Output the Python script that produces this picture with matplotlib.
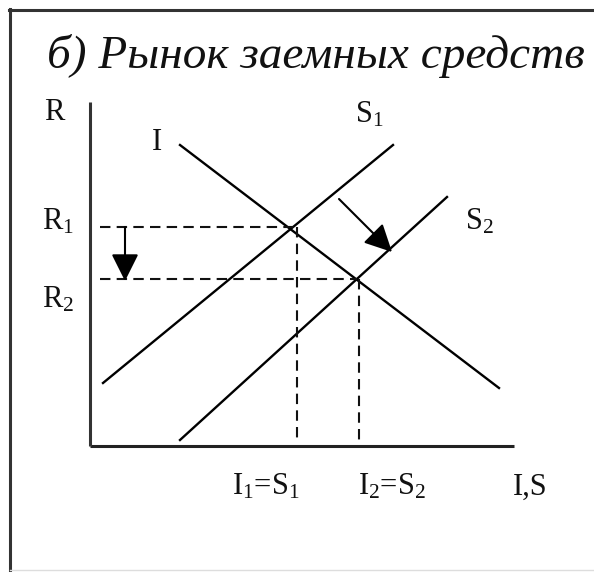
import numpy as np
import matplotlib
matplotlib.use('Agg')
import matplotlib.pyplot as plt
from matplotlib.lines import Line2D

plt.rcParams['font.family'] = ['Liberation Serif', 'DejaVu Serif']
plt.rcParams['mathtext.default'] = 'regular'

# curve end points, units = px from graph origin (x right, y up)
I_x = [90, 409]
I_y = [301, 58]
S1_x = [13, 303]
S1_y = [63, 301]
S2_x = [90, 357]
S2_y = [6, 249]

# equilibrium values
R1, R2 = 219, 167
Q1, Q2 = 204, 267

x_axis_end = 424
y_axis_end = 344

# shift arrows
rate_arrow = [(35, R1), (35, R2 - 2)]
supply_arrow = [(249, 247), (302, 194)]

labels = [
    ('R', -36, 333),
    ('R$_1$', -32, 224),
    ('R$_2$', -32, 146),
    ('I', 67, 304),
    ('S$_1$', 279, 331),
    ('S$_2$', 389, 224),
    ('I$_1$=S$_1$', 176, -41),
    ('I$_2$=S$_2$', 302, -41),
    ('I,S', 440, -41),
]
title = 'б) Рынок заемных средств'

fig = plt.figure(figsize=(5.94, 5.72), dpi=100)
ax = fig.add_axes([0, 0, 1, 1])
ax.set_xlim(-90, 504)
ax.set_ylim(-126, 446)
ax.axis('off')

# frame: left and top dark, bottom faint
fig.lines.append(Line2D([10 / 594, 10 / 594], [0, 1 - 9 / 572], transform=fig.transFigure,
                        color='#333333', lw=2.2))
fig.lines.append(Line2D([9 / 594, 1], [1 - 10 / 572, 1 - 10 / 572], transform=fig.transFigure,
                        color='#333333', lw=2.2))
fig.lines.append(Line2D([10 / 594, 1], [2 / 572, 2 / 572], transform=fig.transFigure,
                        color='#dddddd', lw=1))

# axes
ax.plot([0, x_axis_end], [0, 0], color='#222222', lw=2.2, solid_capstyle='butt')
ax.plot([0, 0], [0, y_axis_end], color='#333333', lw=2.2, solid_capstyle='butt')

# curves
for xs, ys in [(I_x, I_y), (S1_x, S1_y), (S2_x, S2_y)]:
    ax.plot(xs, ys, color='black', lw=1.7)

# dashed guides
dash = (0, (5, 3))
ax.plot([10, Q1], [R1, R1], color='#111111', lw=1.5, linestyle=dash)
ax.plot([10, Q2], [R2, R2], color='#111111', lw=1.5, linestyle=dash)
ax.plot([Q1 + 3, Q1 + 3], [R1, 6], color='#111111', lw=1.5, linestyle=dash)
ax.plot([Q2 + 2, Q2 + 2], [R2, 6], color='#111111', lw=1.5, linestyle=dash)

for (x0, y0), (x1, y1) in [rate_arrow, supply_arrow]:
    ax.annotate('', xy=(x1, y1), xytext=(x0, y0),
                arrowprops=dict(arrowstyle='-|>,head_length=0.8,head_width=0.4',
                                color='black', lw=1.5, mutation_scale=21,
                                shrinkA=0, shrinkB=0))

for txt, x, y in labels:
    ax.text(x, y, txt, fontsize=22, ha='center', va='center', color='#111111')

ax.text(226, 390, title, fontsize=34, style='italic', ha='center', va='center',
        color='#111111')

fig.savefig('out.png', dpi=100)
